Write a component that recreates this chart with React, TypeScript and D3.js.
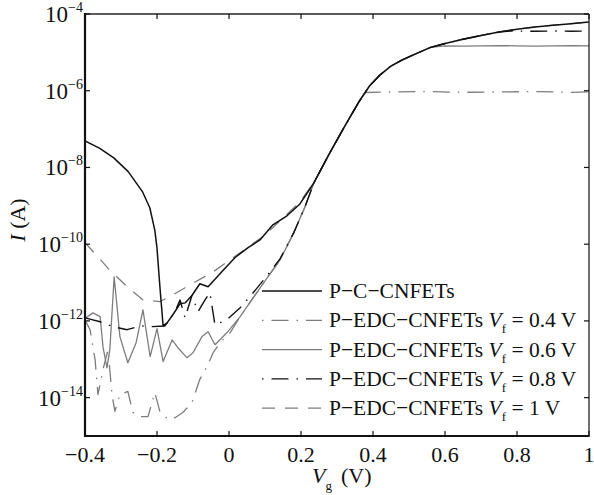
import React from "react";
import * as d3 from "d3";

// ---- data (Vg in V, I in A) ----
const xTicks = [-0.4, -0.2, 0, 0.2, 0.4, 0.6, 0.8, 1];
const xTickLabels = ["−0.4", "−0.2", "0", "0.2", "0.4", "0.6", "0.8", "1"];
const yTickExps = [-4, -6, -8, -10, -12, -14];

const cVg = [-0.4, -0.36, -0.32, -0.28, -0.24, -0.22, -0.206, -0.2, -0.192, -0.183, -0.172, -0.156, -0.136, -0.122, -0.103, -0.081, -0.058, -0.02, 0.017, 0.053, 0.086, 0.122, 0.161, 0.197, 0.236, 0.28, 0.32, 0.36, 0.39, 0.42, 0.45, 0.48, 0.52, 0.56, 0.6, 0.65, 0.7, 0.75, 0.8, 0.85, 0.9, 0.95, 1.0];
const cI = [4.9e-8, 3.2e-8, 1.78e-8, 7.8e-9, 2.3e-9, 8.9e-10, 2.3e-10, 7.9e-11, 7.9e-12, 7.4e-13, 8.9e-13, 1.45e-12, 2.8e-12, 2.95e-12, 4.6e-12, 9.3e-12, 7.8e-12, 1.9e-11, 4.5e-11, 8.1e-11, 1.29e-10, 3.2e-10, 5.5e-10, 1.12e-9, 4.0e-9, 2.4e-8, 1.12e-7, 5.0e-7, 1.32e-6, 2.6e-6, 4.4e-6, 6.3e-6, 9.3e-6, 1.35e-5, 1.7e-5, 2.2e-5, 2.75e-5, 3.4e-5, 4.0e-5, 4.6e-5, 5.1e-5, 5.6e-5, 6.2e-5];

const f04Vg = [-0.4, -0.386, -0.372, -0.364, -0.35, -0.336, -0.325, -0.317, -0.303, -0.281, -0.267, -0.247, -0.225, -0.206, -0.192, -0.169, -0.15, -0.128, -0.103, -0.081, -0.061, -0.044, -0.025, 0.003, 0.031, 0.067, 0.106, 0.142, 0.18, 0.21, 0.236, 0.28, 0.32, 0.36, 0.38, 0.45, 0.55, 0.65, 0.75, 0.85, 0.95, 1.0];
const f04I = [1.07e-12, 5.9e-13, 9.8e-14, 1.2e-14, 5.4e-14, 1.78e-13, 1.2e-14, 4.4e-15, 1.2e-14, 1.45e-14, 4.1e-15, 3.2e-15, 3.2e-15, 1.35e-14, 4.4e-15, 2.7e-15, 3.0e-15, 4.1e-15, 7.4e-15, 3.0e-14, 6.5e-14, 1.48e-13, 2.7e-13, 4.9e-13, 1.29e-12, 4.0e-12, 1.32e-11, 3.9e-11, 2.0e-10, 8.9e-10, 4.0e-9, 2.4e-8, 1.12e-7, 5.0e-7, 9.0e-7, 9.3e-7, 9.5e-7, 9.1e-7, 9.3e-7, 9.5e-7, 9.1e-7, 9.3e-7];

const f06Vg = [-0.4, -0.378, -0.358, -0.35, -0.339, -0.331, -0.319, -0.303, -0.281, -0.258, -0.239, -0.219, -0.2, -0.183, -0.158, -0.142, -0.117, -0.1, -0.075, -0.058, -0.039, -0.006, 0.031, 0.067, 0.106, 0.142, 0.18, 0.21, 0.236, 0.28, 0.32, 0.36, 0.39, 0.42, 0.45, 0.48, 0.52, 0.56, 0.6, 0.65, 0.7, 0.75, 0.8, 0.85, 0.9, 0.95, 1.0];
const f06I = [1.15e-12, 1.62e-12, 1.29e-12, 2.1e-13, 6.0e-14, 1.78e-13, 1.41e-11, 3.9e-13, 8.1e-14, 2.7e-13, 1.95e-12, 1.17e-13, 6.3e-13, 8.7e-14, 3.2e-13, 2.0e-13, 1.1e-13, 1.48e-13, 3.9e-13, 5.2e-13, 2.4e-13, 4.9e-13, 1.29e-12, 4.0e-12, 1.32e-11, 3.9e-11, 2.0e-10, 8.9e-10, 4.0e-9, 2.4e-8, 1.12e-7, 5.0e-7, 1.32e-6, 2.6e-6, 4.4e-6, 6.3e-6, 9.3e-6, 1.35e-5, 1.48e-5, 1.45e-5, 1.48e-5, 1.5e-5, 1.48e-5, 1.45e-5, 1.48e-5, 1.5e-5, 1.48e-5];

const f08Vg = [-0.4, -0.358, -0.322, -0.283, -0.247, -0.214, -0.178, -0.15, -0.136, -0.122, -0.103, -0.086, -0.067, -0.053, -0.039, -0.006, 0.031, 0.067, 0.106, 0.142, 0.18, 0.21, 0.236, 0.28, 0.32, 0.36, 0.39, 0.42, 0.45, 0.48, 0.52, 0.56, 0.6, 0.65, 0.7, 0.75, 0.78, 0.85, 0.9, 0.95, 1.0];
const f08I = [1.2e-12, 9.5e-13, 7.1e-13, 5.9e-13, 7.4e-13, 7.1e-13, 7.4e-13, 1.74e-12, 3.5e-12, 1.2e-12, 4.6e-12, 1.74e-12, 3.5e-12, 5.4e-12, 7.9e-13, 1.07e-12, 2.2e-12, 5.4e-12, 1.51e-11, 4.2e-11, 2.0e-10, 8.9e-10, 4.0e-9, 2.4e-8, 1.12e-7, 5.0e-7, 1.32e-6, 2.6e-6, 4.4e-6, 6.3e-6, 9.3e-6, 1.35e-5, 1.7e-5, 2.2e-5, 2.75e-5, 3.4e-5, 3.6e-5, 3.55e-5, 3.6e-5, 3.55e-5, 3.6e-5];

const f10Vg = [-0.4, -0.331, -0.283, -0.239, -0.192, -0.164, -0.108, -0.044, 0.031, 0.1, 0.197, 0.236, 0.28, 0.32, 0.36, 0.39, 0.42, 0.45, 0.48, 0.52, 0.56, 0.6, 0.65, 0.7, 0.75, 0.8, 0.85, 0.9, 0.95, 1.0];
const f10I = [1.1e-10, 2.1e-11, 7.8e-12, 3.5e-12, 3.2e-12, 4.3e-12, 8.7e-12, 1.9e-11, 6.0e-11, 1.74e-10, 1.26e-9, 4.0e-9, 2.4e-8, 1.12e-7, 5.0e-7, 1.32e-6, 2.6e-6, 4.4e-6, 6.3e-6, 9.3e-6, 1.35e-5, 1.7e-5, 2.2e-5, 2.75e-5, 3.4e-5, 4.0e-5, 4.6e-5, 5.1e-5, 5.6e-5, 6.2e-5];

const seriesNames = ["P−C−CNFETs", "P−EDC−CNFETs", "P−EDC−CNFETs", "P−EDC−CNFETs", "P−EDC−CNFETs"];
const seriesVf = ["", "0.4 V", "0.6 V", "0.8 V", "1 V"];

// ---- layout ----
const W = 594, H = 495;
const L = 85, R = 589, T = 14, B = 436;
const GRAY = "#7d7d7d";
const FONT = "'Liberation Serif', 'DejaVu Serif', serif";

const styles = [
  { stroke: "#111", width: 1.5, dash: "none" },
  { stroke: GRAY, width: 1.3, dash: "17 8 1.5 8" },
  { stroke: GRAY, width: 1.3, dash: "none" },
  { stroke: "#111", width: 1.4, dash: "17 8 1.5 8" },
  { stroke: GRAY, width: 1.3, dash: "13 10" },
];

export default function App() {
  const x = d3.scaleLinear().domain([-0.4, 1]).range([L, R]);
  const y = d3.scaleLog().domain([1e-15, 1e-4]).range([B, T]);
  const line = d3.line<[number, number]>().x((d) => x(d[0])).y((d) => y(d[1])).curve(d3.curveLinear);
  const zip = (a: number[], b: number[]) => a.map((v, i) => [v, b[i]] as [number, number]);
  const data = [zip(cVg, cI), zip(f04Vg, f04I), zip(f06Vg, f06I), zip(f08Vg, f08I), zip(f10Vg, f10I)];
  const drawOrder = [4, 2, 1, 3, 0];
  const legY0 = 291, legDY = 29.3;

  return (
    <svg width={W} height={H} style={{ display: "block", position: "absolute", left: 0, top: 0 }} fontFamily={FONT}>
      <rect width={W} height={H} fill="#fff" />
      <defs>
        <clipPath id="plot"><rect x={L} y={T} width={R - L} height={B - T} /></clipPath>
      </defs>
      <g clipPath="url(#plot)">
        {drawOrder.map((i) => (
          <path key={i} d={line(data[i]) || ""} fill="none" stroke={styles[i].stroke}
            strokeWidth={styles[i].width} strokeDasharray={styles[i].dash} strokeLinejoin="round" />
        ))}
      </g>
      {/* frame */}
      <line x1={L} y1={T} x2={R} y2={T} stroke="#222" strokeWidth={1.3} />
      <line x1={R} y1={T} x2={R} y2={B} stroke="#222" strokeWidth={1.3} />
      <line x1={L} y1={T - 1} x2={L} y2={B + 1} stroke="#111" strokeWidth={2.2} />
      <line x1={L - 1} y1={B} x2={R + 0.6} y2={B} stroke="#111" strokeWidth={2.2} />
      {/* x ticks */}
      {xTicks.map((t, i) => (
        <g key={"x" + i}>
          <line x1={x(t)} x2={x(t)} y1={B} y2={B - 5} stroke="#111" strokeWidth={1.2} />
          <line x1={x(t)} x2={x(t)} y1={T} y2={T + 5} stroke="#111" strokeWidth={1.2} />
          <text x={x(t)} y={462} fontSize={22} textAnchor="middle" fill="#111">{xTickLabels[i]}</text>
        </g>
      ))}
      {/* y ticks */}
      {yTickExps.map((e) => {
        const yy = y(Math.pow(10, e));
        return (
          <g key={"y" + e}>
            <line x1={L} x2={L + 5} y1={yy} y2={yy} stroke="#111" strokeWidth={1.2} />
            <line x1={R} x2={R - 5} y1={yy} y2={yy} stroke="#111" strokeWidth={1.2} />
            <text x={83} y={yy + 8} fontSize={23} textAnchor="end" fill="#111">
              10<tspan fontSize={14} dy={-10}>{"−" + Math.abs(e)}</tspan>
            </text>
          </g>
        );
      })}
      {/* axis labels */}
      <text x={312} y={483} fontSize={22} fill="#111">
        <tspan fontStyle="italic">V</tspan>
        <tspan fontSize={13} dy={7}>g</tspan>
        <tspan dy={-7} dx={9}>(V)</tspan>
      </text>
      <text transform="translate(25,220) rotate(-90)" fontSize={22} textAnchor="middle" fill="#111">
        <tspan fontStyle="italic">I</tspan> (A)
      </text>
      {/* legend */}
      {[0, 1, 2, 3, 4].map((i) => {
        const ly = legY0 + i * legDY;
        return (
          <g key={"l" + i}>
            <line x1={262} x2={322} y1={ly} y2={ly} stroke={styles[i].stroke} strokeWidth={styles[i].width}
              strokeDasharray={styles[i].dash} strokeDashoffset={i === 1 || i === 3 ? 25 : 0} />
            <text x={329} y={ly + 7} fontSize={21.5} fill="#111">
              {seriesNames[i]}
              {seriesVf[i] ? (
                <>
                  <tspan> </tspan>
                  <tspan fontStyle="italic">V</tspan>
                  <tspan fontSize={13} dy={6}>f</tspan>
                  <tspan dy={-6}>{" = " + seriesVf[i]}</tspan>
                </>
              ) : null}
            </text>
          </g>
        );
      })}
    </svg>
  );
}
